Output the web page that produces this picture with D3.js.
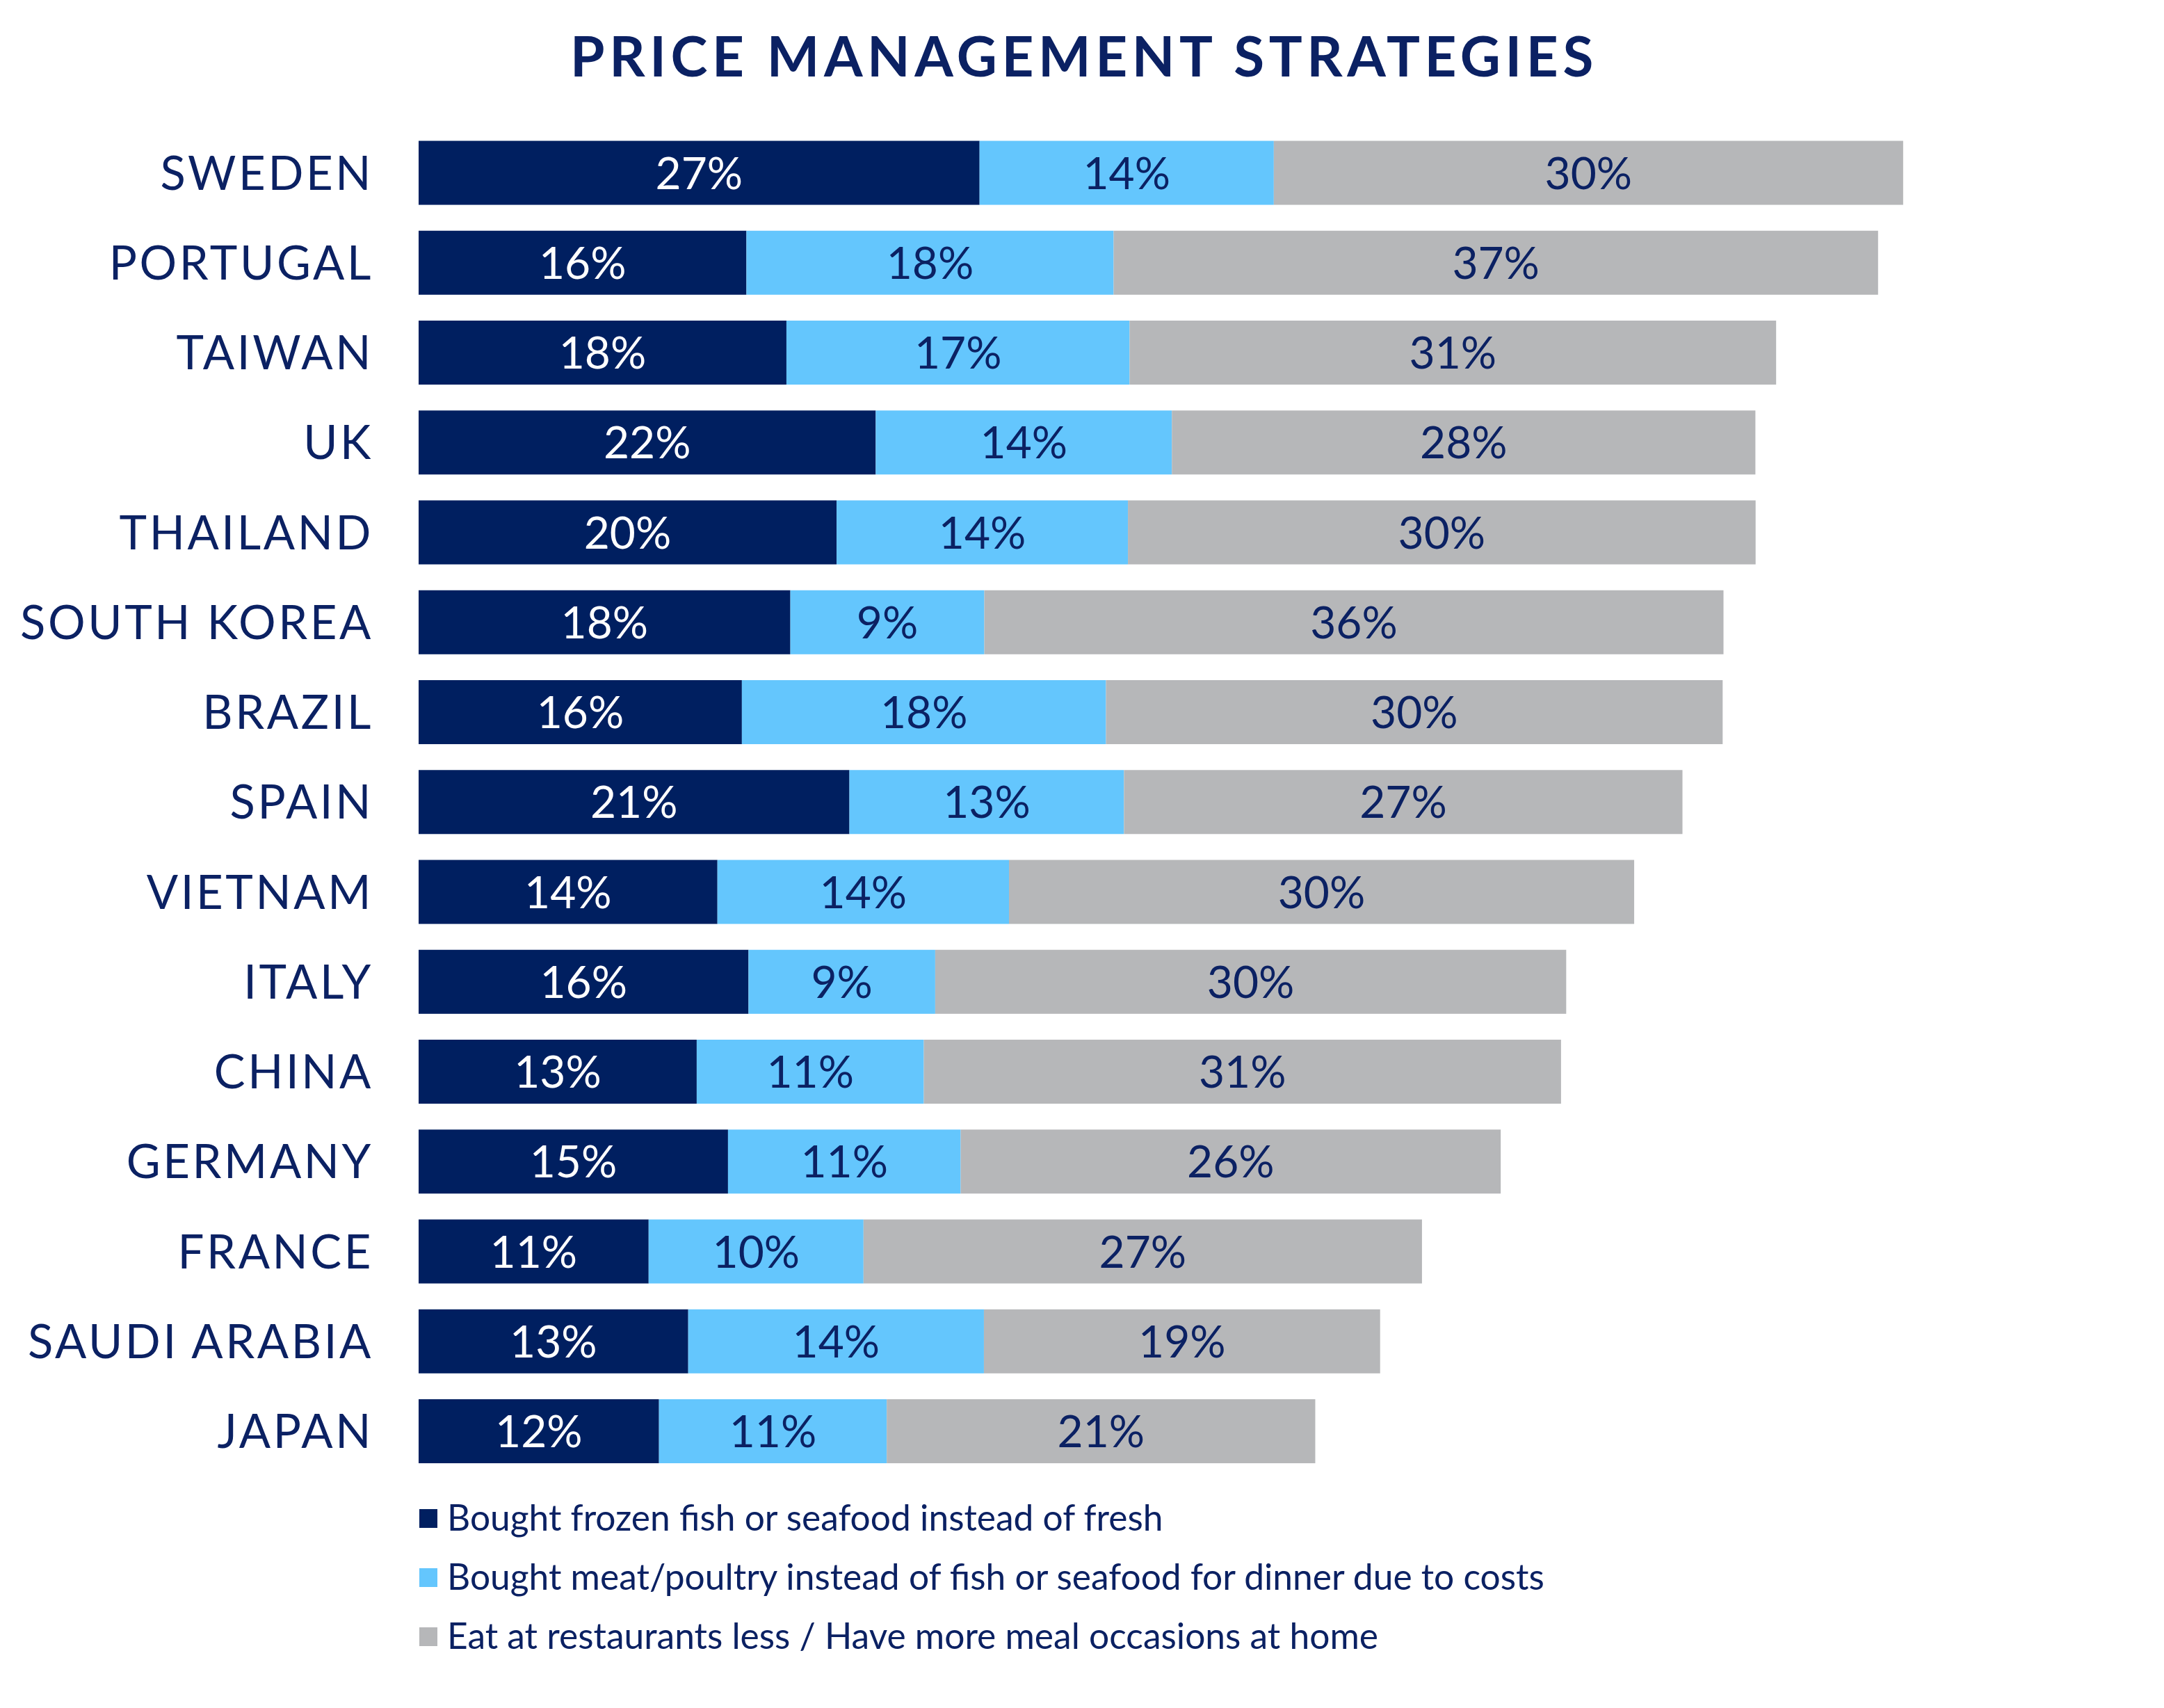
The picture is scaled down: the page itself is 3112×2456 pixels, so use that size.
<!DOCTYPE html>
<html>
<head>
<meta charset="utf-8">
<script src="https://cdn.jsdelivr.net/npm/d3@7"></script>
<style>
  html, body { margin: 0; padding: 0; background: #ffffff; }
  svg { display: block; }
</style>
</head>
<body>
<svg id="chart" width="3112" height="2456"></svg>
<script>
// ---- data ----
const title = "PRICE MANAGEMENT STRATEGIES";
const countries = ["SWEDEN","PORTUGAL","TAIWAN","UK","THAILAND","SOUTH KOREA","BRAZIL","SPAIN","VIETNAM","ITALY","CHINA","GERMANY","FRANCE","SAUDI ARABIA","JAPAN"];
const frozenFish  = [27.07, 15.82, 17.75, 22.06, 20.17, 17.94, 15.6, 20.79, 14.42, 15.92, 13.42, 14.93, 11.10, 13.01, 11.6];
const meatPoultry = [14.20, 17.72, 16.56, 14.29, 14.06, 9.36, 17.57, 13.25, 14.07, 9.01, 10.96, 11.23, 10.37, 14.27, 10.99];
const eatAtHome   = [30.37, 36.89, 31.20, 28.16, 30.29, 35.67, 29.76, 26.95, 30.17, 30.45, 30.75, 26.06, 26.95, 19.12, 20.68];
const seriesKeys  = ["frozen","meat","home"];
const seriesNames = [
  "Bought frozen fish or seafood instead of fresh",
  "Bought meat/poultry instead of fish or seafood for dinner due to costs",
  "Eat at restaurants less / Have more meal occasions at home"
];
const seriesColors = ["#001f60", "#64c6fd", "#b6b7b9"];
const labelColors  = ["#ffffff", "#0b2163", "#0b2163"];

// ---- build table ----
const table = countries.map((c, i) => ({country: c, frozen: frozenFish[i], meat: meatPoultry[i], home: eatAtHome[i]}));
const stacked = d3.stack().keys(seriesKeys)(table);

const navy = "#0b2163";
const svg = d3.select("#chart");
const font = "Lato, 'Open Sans', sans-serif";

const x = d3.scaleLinear().domain([0, 100]).range([602, 602 + 2980]);
const y = d3.scaleBand().domain(countries).range([183.9, 183.9 + 15 * 129.25])
  .paddingInner(0.288).paddingOuter(0.144);
const color = d3.scaleOrdinal().domain(seriesKeys).range(seriesColors);
const lcolor = d3.scaleOrdinal().domain(seriesKeys).range(labelColors);

// title
svg.append("text")
  .attr("x", 1559).attr("y", 110)
  .attr("text-anchor", "middle")
  .attr("font-family", font).attr("font-weight", 700)
  .attr("font-size", 80).attr("letter-spacing", 6.6)
  .attr("fill", navy)
  .text(title);

// bars
const groups = svg.append("g").selectAll("g").data(stacked).join("g")
  .attr("fill", d => color(d.key));
groups.selectAll("rect").data(d => d.map(v => ({v, key: d.key}))).join("rect")
  .attr("x", d => x(d.v[0]))
  .attr("y", d => y(d.v.data.country))
  .attr("width", d => x(d.v[1]) - x(d.v[0]))
  .attr("height", y.bandwidth());

// value labels
const lg = svg.append("g").selectAll("g").data(stacked).join("g");
lg.selectAll("text").data(d => d.map(v => ({v, key: d.key}))).join("text")
  .attr("x", d => (x(d.v[0]) + x(d.v[1])) / 2)
  .attr("y", d => y(d.v.data.country) + y.bandwidth() / 2 + 23)
  .attr("text-anchor", "middle")
  .attr("font-family", font).attr("font-size", 64)
  .attr("fill", d => lcolor(d.key))
  .text(d => Math.round(d.v[1] - d.v[0]) + "%");

// country axis labels
const yAxis = svg.append("g");
yAxis.selectAll("text").data(countries).join("text")
  .attr("x", 537)
  .attr("y", c => y(c) + y.bandwidth() / 2 + 24)
  .attr("text-anchor", "end")
  .attr("font-family", font).attr("font-size", 67)
  .attr("letter-spacing", 3.6)
  .attr("fill", navy)
  .text(c => c);

// legend
const legend = svg.append("g").selectAll("g").data(seriesKeys).join("g")
  .attr("transform", (k, i) => `translate(603, ${2183 + i * 85})`);
legend.append("rect")
  .attr("x", 0).attr("y", -13).attr("width", 26).attr("height", 27)
  .attr("fill", k => color(k));
legend.append("text")
  .attr("x", 40).attr("y", 18)
  .attr("font-family", font).attr("font-size", 51.5)
  .attr("fill", navy)
  .text((k, i) => seriesNames[i]);
</script>
</body>
</html>
